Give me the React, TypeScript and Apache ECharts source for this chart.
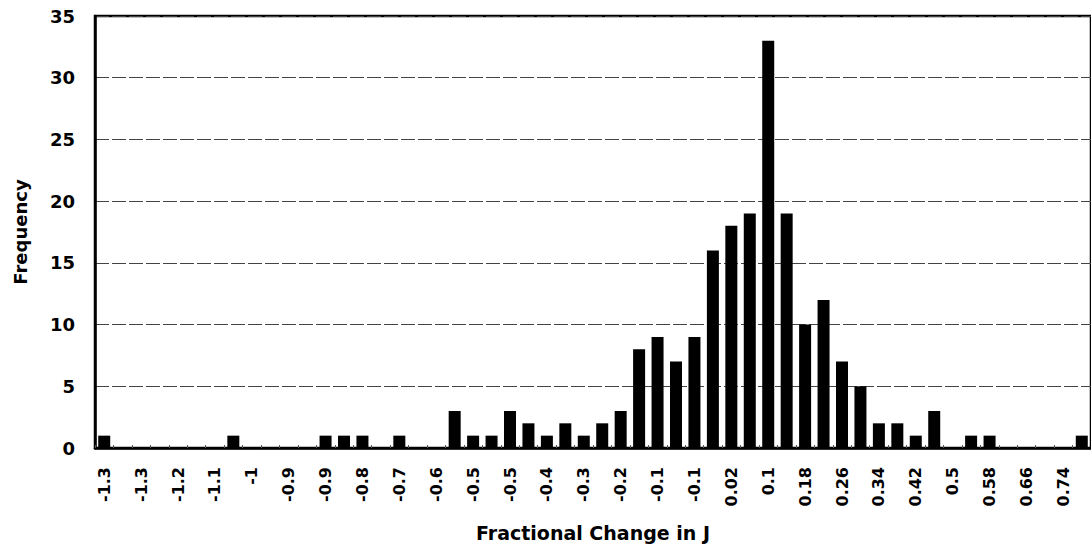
import React, { useEffect, useRef } from "react";
import * as echarts from "echarts";

// Bin labels as printed under the axis (every other bin is labelled)
const categories: string[] = [
  "-1.3", "", "-1.3", "", "-1.2", "", "-1.1", "", "-1", "",
  "-0.9", "", "-0.9", "", "-0.8", "", "-0.7", "", "-0.6", "",
  "-0.5", "", "-0.5", "", "-0.4", "", "-0.3", "", "-0.2", "",
  "-0.1", "", "-0.1", "", "0.02", "", "0.1", "", "0.18", "",
  "0.26", "", "0.34", "", "0.42", "", "0.5", "", "0.58", "",
  "0.66", "", "0.74", "",
];

const frequency: number[] = [
  1, 0, 0, 0, 0, 0, 0, 1, 0, 0,
  0, 0, 1, 1, 1, 0, 1, 0, 0, 3,
  1, 1, 3, 2, 1, 2, 1, 2, 3, 8,
  9, 7, 9, 16, 18, 19, 33, 19, 10, 12,
  7, 5, 2, 2, 1, 3, 0, 1, 1, 0,
  0, 0, 0, 1,
];

const yTicks = { min: 0, max: 35, interval: 5 };

const FONT = "'DejaVu Sans', 'Liberation Sans', Arial, sans-serif";

export default function App() {
  const ref = useRef<HTMLDivElement>(null);

  useEffect(() => {
    if (!ref.current) return;
    const chart = echarts.init(ref.current, undefined, { renderer: "svg" });
    chart.setOption({
      animation: false,
      backgroundColor: "#ffffff",
      grid: {
        left: 95,
        top: 16,
        width: 1000,
        height: 432,
        show: true,
        borderColor: "#000",
        borderWidth: 2.5,
        backgroundColor: "transparent",
      },
      xAxis: {
        type: "category",
        data: categories,
        name: "Fractional Change in J",
        nameLocation: "middle",
        nameGap: 75,
        nameTextStyle: {
          fontFamily: FONT,
          fontWeight: "bold",
          fontSize: 19,
          color: "#000",
        },
        axisLine: { show: true, lineStyle: { color: "#000", width: 2.5 } },
        axisTick: {
          show: true,
          inside: true,
          length: 3,
          interval: 0,
          lineStyle: { color: "#555", width: 1 },
        },
        axisLabel: {
          interval: 0,
          rotate: 90,
          margin: 19,
          fontFamily: FONT,
          fontWeight: "bold",
          fontSize: 16,
          color: "#000",
        },
        splitLine: { show: false },
      },
      yAxis: {
        type: "value",
        min: yTicks.min,
        max: yTicks.max,
        interval: yTicks.interval,
        name: "Frequency",
        nameLocation: "middle",
        nameGap: 66,
        nameRotate: 90,
        nameTextStyle: {
          fontFamily: FONT,
          fontWeight: "bold",
          fontSize: 18,
          color: "#000",
        },
        axisLine: { show: true, lineStyle: { color: "#000", width: 2.5 } },
        axisTick: { show: false },
        axisLabel: {
          margin: 20,
          fontFamily: FONT,
          fontWeight: "bold",
          fontSize: 18,
          color: "#000",
        },
        splitLine: {
          show: true,
          lineStyle: { color: "#444", width: 1, type: [14, 3] },
        },
      },
      series: [
        {
          type: "bar",
          data: frequency,
          barWidth: 12,
          itemStyle: { color: "#000" },
        },
      ],
    });
    return () => chart.dispose();
  }, []);

  return (
    <div
      ref={ref}
      style={{
        position: "fixed",
        left: 0,
        top: 0,
        width: 1091,
        height: 553,
        background: "#fff",
      }}
    />
  );
}
